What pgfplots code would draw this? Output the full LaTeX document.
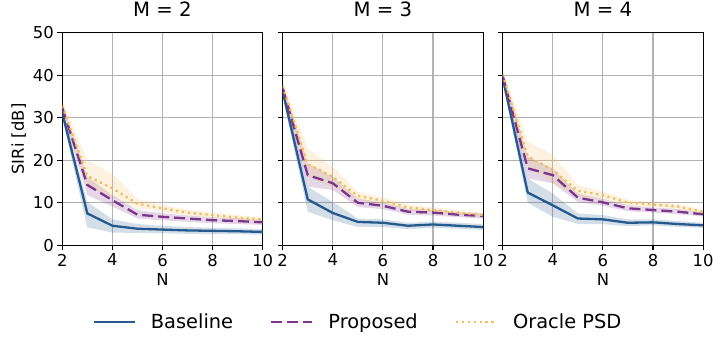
\documentclass[border=0pt]{standalone}
\usepackage{fontspec}
\setmainfont{DejaVu Sans}
\usepackage{pgfplots}
\pgfplotsset{compat=1.18}
\usepackage{pgfplotstable}

\definecolor{cb}{HTML}{245A8E}
\definecolor{cp}{HTML}{7B358A}
\definecolor{co}{HTML}{F0BE60}

% mean curves: N, baseline, proposed, oracle PSD
\pgfplotstableread{
N bm pm om
2 31.1 32.3 32.8
3 7.5 14.2 16.3
4 4.6 10.6 13.4
5 3.9 7.2 9.8
6 3.7 6.7 8.7
7 3.5 6.3 7.7
8 3.4 5.9 7.1
9 3.3 5.7 6.5
10 3.15 5.4 6.1
}\tabA
\pgfplotstableread{
N bm pm om
2 36.2 37.0 37.4
3 10.8 16.5 19.1
4 7.6 14.6 16.1
5 5.5 10.0 11.6
6 5.3 9.3 10.5
7 4.6 7.9 8.9
8 4.9 7.7 8.3
9 4.6 7.2 7.7
10 4.3 6.9 7.1
}\tabB
\pgfplotstableread{
N bm pm om
2 39.4 39.8 40.2
3 12.4 18.1 20.9
4 9.4 16.5 17.7
5 6.3 11.2 12.8
6 6.1 10.1 11.8
7 5.3 8.7 10.0
8 5.4 8.3 9.6
9 5.0 7.9 9.1
10 4.7 7.3 7.9
}\tabC

\newcommand{\band}[2]{%
  \addplot[fill=#1, fill opacity=0.2, draw=none, forget plot] coordinates {#2} -- cycle;
}
\newcommand{\lines}[1]{%
  \addplot[cb, line width=2.3pt, solid] table[x=N,y=bm]{#1};
  \addplot[cp, line width=2.3pt, dash pattern=on 11pt off 5pt] table[x=N,y=pm]{#1};
  \addplot[co, line width=2.3pt, dash pattern=on 2.3pt off 3.6pt] table[x=N,y=om]{#1};
}

\pgfplotsset{
  panel/.style={
    width=200.4pt, height=212.6pt, scale only axis,
    xmin=2, xmax=10, ymin=0, ymax=50,
    xtick={2,4,6,8,10}, ytick={0,10,20,30,40,50},
    grid=major, grid style={color=black!30, line width=1.1pt},
    tick align=outside, tick pos=left, major tick length=5pt,
    axis line style={line width=1.1pt},
    every tick/.style={black, line width=1.1pt},
    tick label style={font=\fontsize{16.4}{19}\selectfont},
    /pgf/number format/assume math mode=true,
    label style={font=\fontsize{16.4}{19}\selectfont},
    title style={font=\fontsize{19.7}{23}\selectfont, at={(0.5,1)}, anchor=base, yshift=10pt},
    xlabel={N},
    legend image code/.code={\draw[##1] (0pt,0pt) -- (41pt,0pt); \path (53pt,0pt);},
  },
}

\begin{document}
\begin{tikzpicture}
\path[use as bounding box] (0pt,0pt) rectangle (714pt,338pt);
\begin{axis}[panel, at={(62.3pt,92.7pt)}, anchor=south west, title={M = 2}, ylabel={SIRi [dB]}]
\band{cb}{(2,32.3) (3,10.2) (4,6.1) (5,5.0) (6,4.6) (7,4.3) (8,4.1) (9,4.0) (10,3.8)
  (10,2.5) (9,2.6) (8,2.6) (7,2.7) (6,2.8) (5,2.9) (4,3.0) (3,4.2) (2,30.0)}
\band{cp}{(2,33.3) (3,16.1) (4,11.8) (5,8.3) (6,7.5) (7,7.0) (8,6.6) (9,6.4) (10,6.0)
  (10,4.8) (9,5.0) (8,5.2) (7,5.5) (6,5.9) (5,6.3) (4,9.1) (3,11.8) (2,31.3)}
\band{co}{(2,34.3) (3,20.0) (4,16.9) (5,10.9) (6,9.5) (7,8.4) (8,7.7) (9,7.1) (10,6.6)
  (10,5.6) (9,6.0) (8,6.5) (7,7.0) (6,7.9) (5,8.7) (4,11.4) (3,13.8) (2,31.9)}
\lines{\tabA}
\end{axis}
\begin{axis}[panel, at={(282.7pt,92.7pt)}, anchor=south west, title={M = 3}, yticklabels={},
  legend columns=3,
  legend style={at={(0.378,-0.36)}, anchor=center, draw=none, fill=none,
    font=\fontsize{19.4}{23}\selectfont,
    /tikz/every odd column/.append style={column sep=0pt},
    /tikz/every even column/.append style={column sep=34pt},
    nodes={inner sep=3pt}}]
\band{cb}{(2,37.4) (3,13.8) (4,10.2) (5,6.3) (6,6.1) (7,5.3) (8,5.6) (9,5.3) (10,5.0)
  (10,3.6) (9,3.9) (8,4.1) (7,3.8) (6,4.3) (5,4.3) (4,5.9) (3,7.9) (2,35.0)}
\band{cp}{(2,38.0) (3,19.3) (4,16.1) (5,11.0) (6,10.1) (7,8.6) (8,8.4) (9,7.8) (10,7.5)
  (10,6.3) (9,6.6) (8,7.0) (7,7.2) (6,8.5) (5,9.0) (4,13.0) (3,13.8) (2,36.0)}
\band{co}{(2,38.6) (3,22.8) (4,18.5) (5,12.6) (6,11.3) (7,9.6) (8,8.9) (9,8.3) (10,7.6)
  (10,6.6) (9,7.1) (8,7.7) (7,8.2) (6,9.7) (5,10.6) (4,13.8) (3,16.1) (2,36.2)}
\lines{\tabB}
\addlegendentry{Baseline}
\addlegendentry{Proposed}
\addlegendentry{Oracle PSD}
\end{axis}
\begin{axis}[panel, at={(502.7pt,92.7pt)}, anchor=south west, title={M = 4}, yticklabels={}]
\band{cb}{(2,40.5) (3,15.7) (4,12.2) (5,7.5) (6,7.1) (7,6.1) (8,6.1) (9,5.7) (10,5.3)
  (10,4.1) (9,4.3) (8,4.7) (7,4.5) (6,5.0) (5,5.0) (4,6.7) (3,10.0) (2,38.3)}
\band{cp}{(2,40.8) (3,20.9) (4,18.1) (5,12.2) (6,10.9) (7,9.4) (8,8.9) (9,8.5) (10,7.8)
  (10,6.8) (9,7.3) (8,7.7) (7,8.0) (6,9.3) (5,10.2) (4,14.6) (3,15.7) (2,38.8)}
\band{co}{(2,41.3) (3,24.4) (4,21.3) (5,14.2) (6,12.7) (7,10.7) (8,10.2) (9,9.7) (10,8.4)
  (10,7.4) (9,8.5) (8,9.0) (7,9.3) (6,10.8) (5,11.4) (4,14.6) (3,18.5) (2,39.2)}
\lines{\tabC}
\end{axis}
\end{tikzpicture}
\end{document}
